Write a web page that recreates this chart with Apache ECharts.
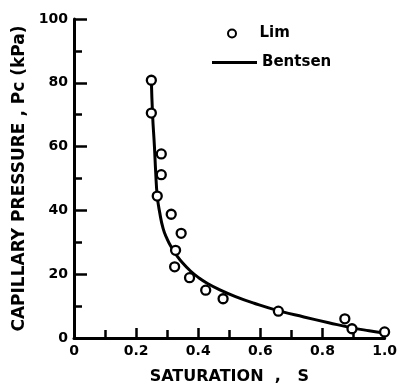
<!DOCTYPE html>
<html>
<head>
<meta charset="utf-8">
<script src="https://cdn.jsdelivr.net/npm/echarts@6/dist/echarts.min.js"></script>
<style>
  html, body { margin: 0; padding: 0; background: #fff; }
  #chart { width: 400px; height: 390px; }
</style>
</head>
<body>
<div id="chart"></div>
<script>
// Lim measurements (saturation, Pc in kPa)
var limPoints = [
  [0.249, 80.8], [0.249, 70.5], [0.281, 57.7], [0.281, 51.2], [0.268, 44.5],
  [0.313, 38.8], [0.345, 32.8], [0.327, 27.5], [0.324, 22.3], [0.372, 18.9],
  [0.424, 15.0], [0.48, 12.3], [0.658, 8.4], [0.872, 6.0], [0.895, 2.9],
  [1.0, 1.9]
]
// Bentsen curve
var bentsenCurve = [
  [0.249, 81], [0.253, 70], [0.259, 60], [0.263, 52], [0.268, 44.5],
  [0.276, 39.3], [0.287, 34.3], [0.30, 31.0], [0.315, 28.2], [0.33, 26.0],
  [0.35, 23.5], [0.375, 21.0], [0.40, 19.0], [0.43, 17.1], [0.47, 15.1],
  [0.52, 13.0], [0.58, 10.9], [0.66, 8.5], [0.74, 6.6], [0.82, 4.8],
  [0.90, 3.1], [0.95, 2.3], [1.0, 1.6]
]
var xTicks = { min: 0, max: 1, step: 0.2 }
var yTicks = { min: 0, max: 100, step: 20 }

;(function () {
  var chart = echarts.init(document.getElementById('chart'), null, { renderer: 'canvas' })
  var font = 'DejaVu Sans'
  var axisLine = { lineStyle: { color: '#000', width: 3 } }
  var legendText = { fontFamily: font, fontWeight: 'bold', fontSize: 15, color: '#000' }

  var option = {
    animation: false,
    backgroundColor: '#fff',
    textStyle: { fontFamily: font, color: '#000', fontWeight: 'bold' },
    grid: { left: 74, right: 15, top: 19, bottom: 47 },
    legend: [{
      data: ['Lim'],
      left: 222, top: 21,
      itemWidth: 45, itemHeight: 8,
      textStyle: legendText
    }, {
      data: [{ name: 'Bentsen', icon: 'rect' }],
      left: 207, top: 50,
      itemWidth: 45, itemHeight: 3,
      itemStyle: { color: '#000', borderWidth: 0 },
      textStyle: legendText
    }],
    xAxis: {
      type: 'value',
      min: xTicks.min, max: xTicks.max, interval: xTicks.step,
      name: 'SATURATION  ,   S',
      nameLocation: 'middle',
      nameGap: 31,
      nameTextStyle: { fontFamily: font, fontWeight: 'bold', fontSize: 16, color: '#000' },
      axisLine: axisLine,
      axisTick: { inside: true, length: 10, lineStyle: { color: '#000', width: 2.5 } },
      minorTick: { show: true, splitNumber: 2, length: 8, lineStyle: { color: '#000', width: 2.5 } },
      axisLabel: {
        margin: 6, fontFamily: font, fontWeight: 'bold', fontSize: 14, color: '#000',
        formatter: function (v) { return v === 0 ? '0' : v.toFixed(1) }
      },
      splitLine: { show: false }
    },
    yAxis: {
      type: 'value',
      min: yTicks.min, max: yTicks.max, interval: yTicks.step,
      name: 'CAPILLARY PRESSURE , Pc (kPa)',
      nameLocation: 'middle',
      nameGap: 44,
      nameTextStyle: { fontFamily: font, fontWeight: 'bold', fontSize: 17, color: '#000' },
      axisLine: axisLine,
      axisTick: { inside: true, length: 13, lineStyle: { color: '#000', width: 2.5 } },
      minorTick: { show: true, splitNumber: 2, length: 8, lineStyle: { color: '#000', width: 2.5 } },
      axisLabel: { margin: 6, fontFamily: font, fontWeight: 'bold', fontSize: 14, color: '#000' },
      splitLine: { show: false }
    },
    series: [{
      name: 'Bentsen',
      type: 'line',
      data: bentsenCurve,
      symbol: 'none',
      smooth: 0.5,
      lineStyle: { color: '#000', width: 3 },
      itemStyle: { color: '#000' },
      z: 2
    }, {
      name: 'Lim',
      type: 'scatter',
      data: limPoints,
      symbol: 'circle',
      symbolSize: 9,
      itemStyle: { color: '#fff', borderColor: '#000', borderWidth: 2.3, opacity: 1 },
      z: 3
    }]
  }
  chart.setOption(option)
})()
</script>
</body>
</html>
